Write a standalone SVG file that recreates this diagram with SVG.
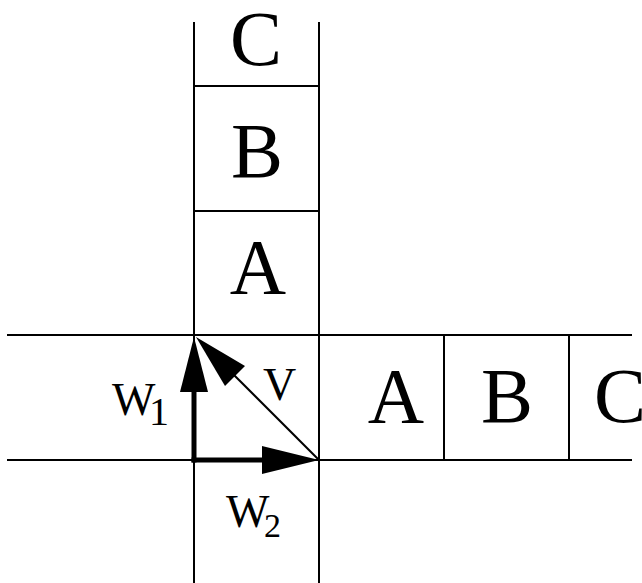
<svg xmlns="http://www.w3.org/2000/svg" width="642" height="583" viewBox="0 0 642 583">
<style>
.ln{stroke:#000;stroke-width:2;fill:none}
text{font-family:'Liberation Serif','Times New Roman',serif;fill:#000}
.big{font-size:78px;text-anchor:middle}
.lbl{font-size:46px}
.thick{stroke:#000;stroke-width:5;fill:none;stroke-linecap:square}
.thin{stroke:#000;stroke-width:2;fill:none}
.head{fill:#000;stroke:none}
</style>
<rect width="642" height="583" fill="#fff"/>
<g id="grid">
<line class="ln" x1="194" y1="22" x2="194" y2="583"/>
<line class="ln" x1="319" y1="22" x2="319" y2="583"/>
<line class="ln" x1="7" y1="335" x2="632" y2="335"/>
<line class="ln" x1="7" y1="460" x2="632" y2="460"/>
</g>
<g id="vC"><text class="big" x="256" y="65">C</text></g>
<g id="vB"><line class="ln" x1="194" y1="86" x2="319" y2="86"/><text class="big" x="257" y="177">B</text></g>
<g id="vA"><line class="ln" x1="194" y1="211" x2="319" y2="211"/><text class="big" x="258" y="293">A</text></g>
<g id="hA"><text class="big" x="396" y="422">A</text></g>
<g id="hB"><line class="ln" x1="444" y1="335" x2="444" y2="460"/><text class="big" x="507" y="422">B</text></g>
<g id="hC"><line class="ln" x1="569" y1="335" x2="569" y2="460"/><text class="big" x="620" y="422">C</text></g>
<g id="connectors">
<g id="w1">
<line class="thick" x1="194" y1="460" x2="194" y2="390"/>
<polygon class="head" points="194,337 180,392 208,392"/>
</g>
<g id="w2">
<line class="thick" x1="194" y1="460" x2="264" y2="460"/>
<polygon class="head" points="319,460 262,446 262,474"/>
</g>
<g id="v">
<line class="thin" x1="319" y1="460" x2="230" y2="371"/>
<polygon class="head" points="196,337 225,386 245,366"/>
</g>
</g>
<g id="labels">
<text class="lbl" x="112" y="415">W<tspan font-size="40" x="149" y="425">1</tspan></text>
<text class="lbl" x="263" y="400">V</text>
<text class="lbl" x="226" y="527">W<tspan font-size="34" x="264" y="537">2</tspan></text>
</g>
</svg>
